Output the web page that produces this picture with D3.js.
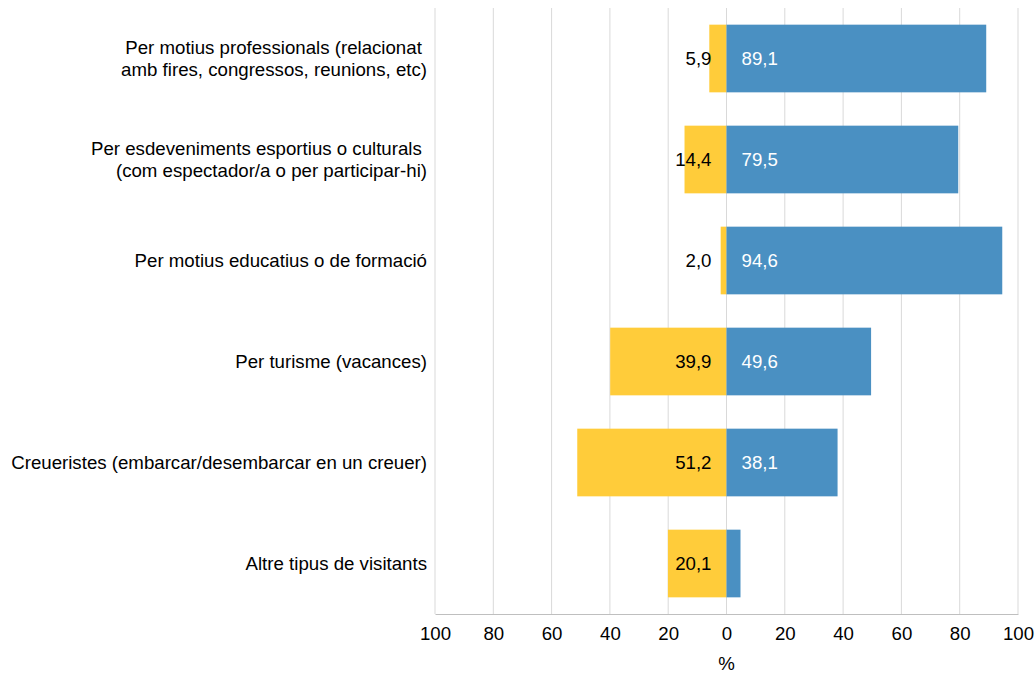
<!DOCTYPE html>
<html>
<head>
<meta charset="utf-8">
<script src="https://cdn.jsdelivr.net/npm/d3@7"></script>
<style>
  body { margin: 0; background: #fff; }
  text { font-family: "Liberation Sans", Arial, sans-serif; }
</style>
</head>
<body>
<div id="chart"></div>
<script>
var categories = [
  ["Per motius professionals (relacionat ", "amb fires, congressos, reunions, etc)"],
  ["Per esdeveniments esportius o culturals ", "(com espectador/a o per participar-hi)"],
  ["Per motius educatius o de formació"],
  ["Per turisme (vacances)"],
  ["Creueristes (embarcar/desembarcar en un creuer)"],
  ["Altre tipus de visitants"]
]
var leftValues = [5.9, 14.4, 2.0, 39.9, 51.2, 20.1]
var rightValues = [89.1, 79.5, 94.6, 49.6, 38.1, 4.8]
var rightLabels = ["89,1", "79,5", "94,6", "49,6", "38,1", ""]
var tickValues = [-100, -80, -60, -40, -20, 0, 20, 40, 60, 80, 100]

var width = 1036,
    height = 674,
    margin = {top: 8, right: 18, bottom: 60, left: 435},
    fs = 18.67

var svg = d3.select('#chart').append('svg')
  .attr('width', width)
  .attr('height', height)

var x = d3.scaleLinear()
  .domain([-100, 100])
  .range([margin.left, width - margin.right])

var y = d3.scaleBand()
  .domain(d3.range(categories.length))
  .range([margin.top, height - margin.bottom])
  .paddingInner(0.33)
  .paddingOuter(0.165)

var fmt = function (v) { return v.toFixed(1).replace('.', ',') }

// grid
svg.append('g').selectAll('line')
  .data(tickValues)
  .enter().append('line')
  .attr('x1', function (d) { return x(d) })
  .attr('x2', function (d) { return x(d) })
  .attr('y1', margin.top)
  .attr('y2', height - margin.bottom)
  .attr('stroke', '#d9d9d9')
  .attr('stroke-width', 1)

// x axis
var xAxis = d3.axisBottom(x)
  .tickValues(tickValues)
  .tickSize(0)
  .tickPadding(13)
  .tickFormat(function (d) { return Math.abs(d) })

var gx = svg.append('g')
  .attr('transform', 'translate(0,' + (height - margin.bottom) + ')')
  .call(xAxis)
gx.select('.domain').attr('stroke', '#bfbfbf')
gx.selectAll('text')
  .attr('font-size', fs)
  .attr('font-family', '"Liberation Sans", Arial, sans-serif')
  .attr('fill', '#000')

svg.append('text')
  .attr('x', x(0))
  .attr('y', height - 4)
  .attr('text-anchor', 'middle')
  .attr('font-size', fs)
  .text('%')

// left (yellow) bars
svg.append('g').selectAll('rect')
  .data(leftValues)
  .enter().append('rect')
  .attr('x', function (d) { return x(-d) })
  .attr('y', function (d, i) { return y(i) })
  .attr('width', function (d) { return x(0) - x(-d) })
  .attr('height', y.bandwidth())
  .attr('fill', '#ffcc3a')

// right (blue) bars
svg.append('g').selectAll('rect')
  .data(rightValues)
  .enter().append('rect')
  .attr('x', x(0))
  .attr('y', function (d, i) { return y(i) })
  .attr('width', function (d) { return x(d) - x(0) })
  .attr('height', y.bandwidth())
  .attr('fill', '#4a90c2')

// labels
svg.append('g').selectAll('text')
  .data(leftValues)
  .enter().append('text')
  .attr('x', x(0) - 15)
  .attr('y', function (d, i) { return y(i) + y.bandwidth() / 2 })
  .attr('dy', '0.35em')
  .attr('text-anchor', 'end')
  .attr('font-size', fs)
  .attr('fill', '#000')
  .text(fmt)

svg.append('g').selectAll('text')
  .data(rightLabels)
  .enter().append('text')
  .attr('x', x(0) + 15)
  .attr('y', function (d, i) { return y(i) + y.bandwidth() / 2 })
  .attr('dy', '0.35em')
  .attr('font-size', fs)
  .attr('fill', '#fff')
  .text(function (d) { return d })

// categories
var cat = svg.append('g').selectAll('text')
  .data(categories)
  .enter().append('text')
  .attr('text-anchor', 'end')
  .attr('font-size', fs)
  .attr('fill', '#000')
  .attr('y', function (d, i) { return y(i) + y.bandwidth() / 2 })

cat.selectAll('tspan')
  .data(function (d) { return d.map(function (t, k) { return {t: t, k: k, n: d.length} }) })
  .enter().append('tspan')
  .attr('x', margin.left - 8)
  .attr('dy', function (d) { return d.k === 0 ? (0.35 - (d.n - 1) * 0.6) + 'em' : '1.2em' })
  .text(function (d) { return d.t })
</script>
</body>
</html>
